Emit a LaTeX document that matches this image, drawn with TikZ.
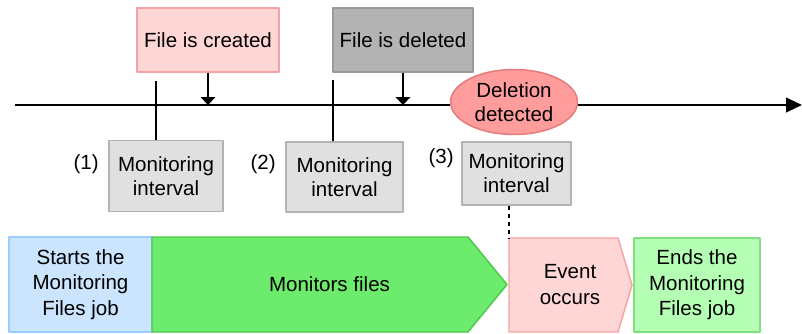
\documentclass[tikz,border=0pt]{standalone}
\usepackage{fontspec}
\setmainfont{Liberation Sans}
\usetikzlibrary{arrows.meta,shapes.geometric}
\definecolor{pinkfill}{HTML}{FFD6D6}
\definecolor{pinkline}{HTML}{F7A3A3}
\definecolor{grayfill}{HTML}{B3B3B3}
\definecolor{grayline}{HTML}{999999}
\definecolor{redfill}{HTML}{FF9C9C}
\definecolor{redline}{HTML}{E57A7A}
\definecolor{monfill}{HTML}{E0E0E0}
\definecolor{monline}{HTML}{B3B3B3}
\definecolor{bluefill}{HTML}{CCE5FF}
\definecolor{blueline}{HTML}{99CCFF}
\definecolor{greenfill}{HTML}{6CEB6C}
\definecolor{greenline}{HTML}{4CC94C}
\definecolor{lgreenfill}{HTML}{B5FFB5}
\definecolor{lgreenline}{HTML}{80E080}
\tikzset{
  every picture/.style={line join=round, >=Triangle},
  txt/.style={font=\fontsize{15.4}{18}\selectfont, align=center, inner sep=0pt},
  box/.style={txt, draw, line width=1.1pt},
  size/.style 2 args={minimum width=#1*0.75pt, minimum height=#2*0.75pt},
  phase/.style={txt, font=\fontsize{15.4}{19}\selectfont},
  tick/.style={line width=1.1pt},
}

\begin{document}
\begin{tikzpicture}[x=0.75pt,y=-0.75pt]
\useasboundingbox (0,0) rectangle (802,333);
% events above the time line
\node[box, fill=pinkfill, draw=pinkline, size={142}{64}] (created) at (208,40) {File is created};
\node[box, fill=grayfill, draw=grayline, size={140}{64}] (deleted) at (403,40) {File is deleted};
% time line
\coordinate (tl0) at (15,105);
\coordinate (tl1) at (802,105);
\draw[line width=1.5pt, -{Triangle[width=11pt,length=12pt]}] (tl0)--(tl1);
\draw[line width=1.1pt, -{Triangle[width=11pt,length=6pt]}] (created.south)--(created.south |- tl0);
\draw[line width=1.1pt, -{Triangle[width=11pt,length=6pt]}] (deleted.south)--(deleted.south |- tl0);
\node[box, shape=ellipse, fill=redfill, draw=redline, size={127}{65}] (detected) at (514,102) {Deletion\\detected};
% monitoring intervals
\node[box, fill=monfill, draw=monline, size={114}{71}] (mon1) at (166,176) {Monitoring\\interval};
\node[box, fill=monfill, draw=monline, size={117}{70}] (mon2) at (344.5,177) {Monitoring\\interval};
\node[box, fill=monfill, draw=monline, size={109}{63}] (mon3) at (516.5,173.5) {Monitoring\\interval};
\node[txt, anchor=east] (n1) at (99,164) {(1)};
\node[txt, anchor=east] (n2) at (276,164) {(2)};
\node[txt, anchor=east] (n3) at (454,158) {(3)};
\coordinate (t1) at (156,81);
\coordinate (t2) at (333,80);
\draw[tick] (t1)--(t1 |- mon1.north);
\draw[tick] (t2)--(t2 |- mon2.north);
% job phases
\node[box, fill=bluefill, draw=blueline, size={143}{95}, phase] (start) at (80.5,284.5) {Starts the\\Monitoring\\Files job};
\draw[line width=1.1pt, fill=greenfill, draw=greenline] (152,237)--(468,237)--(507,284.5)--(468,332)--(152,332)--cycle;
\node[phase] (monfiles) at (329.5,284.5) {Monitors files};
\draw[line width=1.1pt, fill=pinkfill, draw=pinkline] (509,238)--(618,238)--(632,285)--(618,332)--(509,332)--cycle;
\node[phase] (event) at (570,284.5) {Event\\occurs};
\coordinate (eventtop) at (509,238);
\node[box, fill=lgreenfill, draw=lgreenline, size={126}{94}, phase] (ends) at (697,285) {Ends the\\Monitoring\\Files job};
\draw[line width=1pt, dash pattern=on 3pt off 3pt] (eventtop |- mon3.south)--(eventtop);
\end{tikzpicture}
\end{document}
